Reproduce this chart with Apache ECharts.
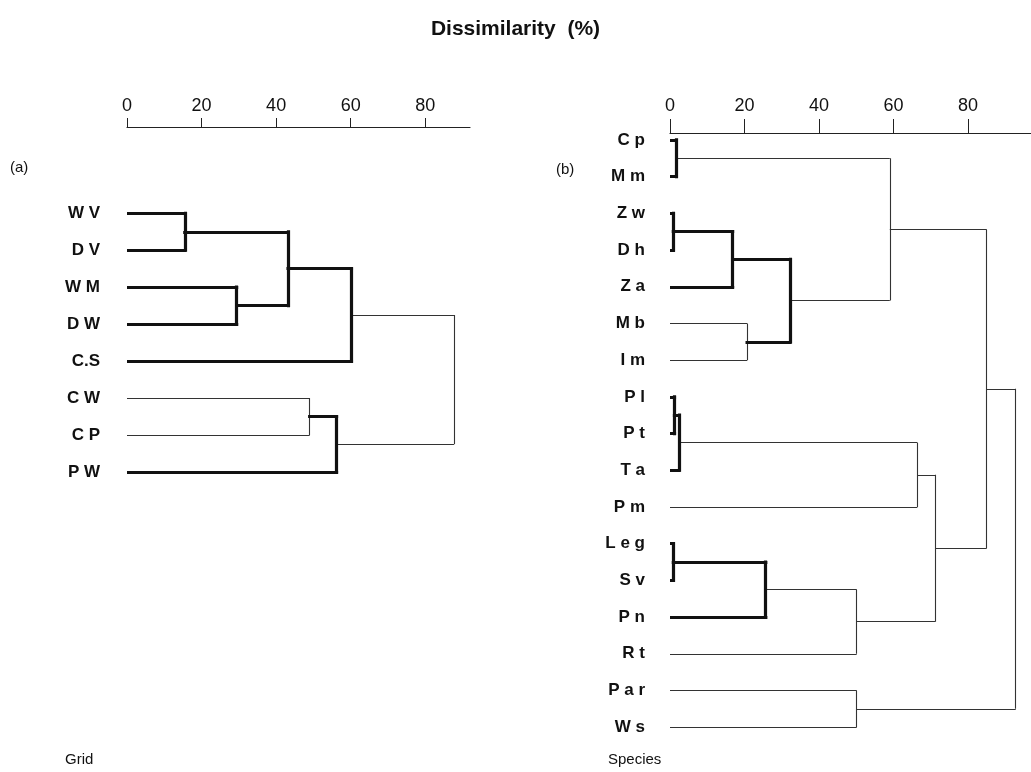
<!DOCTYPE html>
<html>
<head>
<meta charset="utf-8">
<script src="https://cdn.jsdelivr.net/npm/echarts@6/dist/echarts.min.js"></script>
<style>
  html, body { margin: 0; padding: 0; background: #ffffff; }
  #chart { width: 1031px; height: 772px; }
</style>
</head>
<body>
<div id="chart"></div>
<script>
// ---- data ----
const axisTicks = [0, 20, 40, 60, 80];

const gridLeaves = ['W V', 'D V', 'W M', 'D W', 'C.S', 'C W', 'C P', 'P W'];
// [childA, childB, dissimilarity]; leaves are 0..n-1, merges numbered n, n+1, ...
const gridMerges = [
  [0, 1, 15.5],
  [2, 3, 29.4],
  [8, 9, 43.2],
  [10, 4, 60.2],
  [5, 6, 49.0],
  [12, 7, 56.2],
  [11, 13, 87.7]
];

const speciesLeaves = ['C p', 'M m', 'Z w', 'D h', 'Z a', 'M b', 'I m', 'P l', 'P t', 'T a',
  'P m', 'L e g', 'S v', 'P n', 'R t', 'P a r', 'W s'];
const speciesMerges = [
  [0, 1, 1.6],
  [2, 3, 0.9],
  [18, 4, 16.8],
  [5, 6, 20.7],
  [19, 20, 32.2],
  [17, 21, 59.0],
  [7, 8, 1.2],
  [23, 9, 2.4],
  [24, 10, 66.4],
  [11, 12, 0.9],
  [26, 13, 25.7],
  [27, 14, 50.1],
  [25, 28, 71.2],
  [22, 29, 85.0],
  [15, 16, 50.1],
  [30, 31, 92.8]
];

// ---- styles (which merges are drawn heavy) ----
const gridBold = [true, true, true, true, false, true, false];
const speciesBold = [true, true, true, false, true, false, true, true, false, true, true, false, false, false, false, false];

const thick = { width: 3.2, color: '#111', cap: 'square', opacity: 1 };
const thin = { width: 1.1, color: '#333', cap: 'butt', opacity: 1 };

function buildSegments(leaves, merges, bold) {
  const n = leaves.length;
  const h = leaves.map(() => 0);
  const y = leaves.map((_, i) => i);
  const thinSegs = [], thickSegs = [];
  merges.forEach(([a, b, ht], k) => {
    const id = n + k;
    h[id] = ht;
    y[id] = (y[a] + y[b]) / 2;
    const target = bold[k] ? thickSegs : thinSegs;
    const st = bold[k] ? thick : thin;
    target.push({ coords: [[h[a], y[a]], [ht, y[a]]], lineStyle: st });
    target.push({ coords: [[h[b], y[b]], [ht, y[b]]], lineStyle: st });
    target.push({ coords: [[ht, y[a]], [ht, y[b]]], lineStyle: st });
  });
  return thinSegs.concat(thickSegs);
}

const font = 'Liberation Sans, Arial, Helvetica, sans-serif';

function xAxisFor(gridIndex, max, margin, tickLen) {
  return {
    type: 'value', gridIndex: gridIndex, position: 'top',
    min: 0, max: max, interval: 20,
    axisLine: { show: true, onZero: false, lineStyle: { color: '#222', width: 1.2 } },
    axisTick: { show: true, customValues: axisTicks, length: tickLen, lineStyle: { color: '#222', width: 1 } },
    axisLabel: { customValues: axisTicks, margin: margin, color: '#111', fontSize: 18, fontFamily: font },
    splitLine: { show: false }
  };
}

function yAxisFor(gridIndex, leaves, min, max, margin) {
  return {
    type: 'value', gridIndex: gridIndex, inverse: true, min: min, max: max,
    axisLine: { show: false, onZero: false }, axisTick: { show: false }, splitLine: { show: false },
    axisLabel: {
      customValues: leaves.map((_, i) => i),
      formatter: v => leaves[Math.round(v)] || '',
      margin: margin, color: '#111', fontSize: 17, fontWeight: 'bold', fontFamily: font
    }
  };
}

const chart = echarts.init(document.getElementById('chart'), null, { renderer: 'canvas' });
chart.setOption({
  backgroundColor: '#ffffff',
  animation: false,
  grid: [
    { left: 127, top: 127, width: 343, height: 363.5 },
    { left: 670, top: 133, width: 361, height: 612.5 }
  ],
  xAxis: [
    xAxisFor(0, 92, 12, 9),
    xAxisFor(1, 96.9, 18, 14)
  ],
  yAxis: [
    yAxisFor(0, gridLeaves, -2.335, 7.5, 27),
    yAxisFor(1, speciesLeaves, -0.19, 16.5, 25)
  ],
  series: [
    {
      type: 'lines', coordinateSystem: 'cartesian2d', xAxisIndex: 0, yAxisIndex: 0,
      silent: true, symbol: 'none', data: buildSegments(gridLeaves, gridMerges, gridBold)
    },
    {
      type: 'lines', coordinateSystem: 'cartesian2d', xAxisIndex: 1, yAxisIndex: 1,
      silent: true, symbol: 'none', data: buildSegments(speciesLeaves, speciesMerges, speciesBold)
    }
  ],
  graphic: [
    { type: 'text', left: 'center', top: 19, style: { text: 'Dissimilarity  (%)', font: 'bold 21px ' + font, fill: '#111' } },
    { type: 'text', left: 10, top: 160, style: { text: '(a)', font: '15px ' + font, fill: '#111' } },
    { type: 'text', left: 556, top: 162, style: { text: '(b)', font: '15px ' + font, fill: '#111' } },
    { type: 'text', left: 65, top: 752, style: { text: 'Grid', font: '15px ' + font, fill: '#111' } },
    { type: 'text', left: 608, top: 752, style: { text: 'Species', font: '15px ' + font, fill: '#111' } }
  ]
});
</script>
</body>
</html>
